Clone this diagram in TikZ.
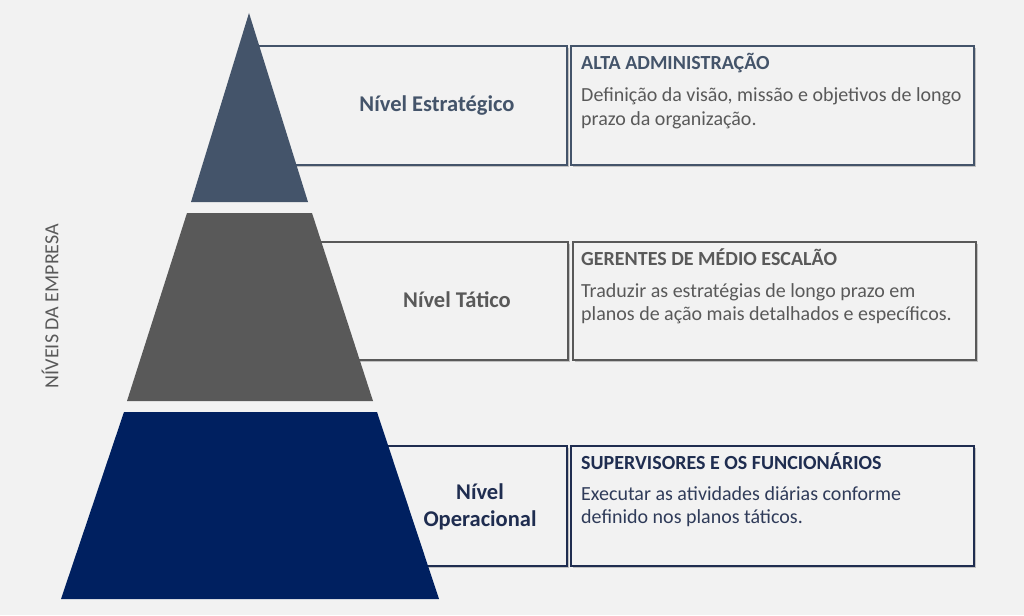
\documentclass[tikz,border=0pt]{standalone}
\usepackage{fontspec}
\setmainfont{Carlito}
\usetikzlibrary{shadows}
\definecolor{bgc}{HTML}{F2F2F2}
\definecolor{slate}{HTML}{44546A}
\definecolor{grayc}{HTML}{595959}
\definecolor{navy}{HTML}{002060}
\definecolor{navytxt}{HTML}{1F2D50}
\definecolor{navybody}{HTML}{2F3B59}
\tikzset{
  boxbase/.style={draw, line width=1.8pt, fill=bgc, inner sep=0pt, anchor=north west,
    drop shadow={shadow xshift=2pt, shadow yshift=-2pt, opacity=0.35, fill=black!60}},
  lvl/.style={font=\fontsize{22.5}{26}\selectfont\bfseries, align=center},
  ttl/.style={font=\fontsize{20}{23}\selectfont\bfseries, anchor=base west, inner sep=0pt},
  body/.style={font=\fontsize{20}{23}\selectfont, anchor=base west, inner sep=0pt},
}
\begin{document}
\begin{tikzpicture}[x=1pt,y=-1pt]
\fill[bgc] (0,0) rectangle (1024,615);
\useasboundingbox (0,0) rectangle (1024,615);

% label boxes and description boxes
\node[boxbase, draw=slate, minimum width=321pt, minimum height=119pt] (lb1) at (245,45) {};
\node[boxbase, draw=slate, minimum width=403pt, minimum height=119pt] (db1) at (570,45) {};
\node[boxbase, draw=grayc, minimum width=307pt, minimum height=118pt] (lb2) at (260,241) {};
\node[boxbase, draw=grayc, minimum width=403pt, minimum height=118pt] (db2) at (572,241) {};
\node[boxbase, draw=navytxt, minimum width=236pt, minimum height=120pt] (lb3) at (330,445) {};
\node[boxbase, draw=navytxt, minimum width=403pt, minimum height=120pt] (db3) at (570,445) {};

% pyramid
\fill[slate] (249,13) -- (308,202) -- (191,202) -- cycle;
\fill[grayc] (187,213) -- (312,213) -- (373,401) -- (127,401) -- cycle;
\fill[navy] (124,412) -- (377,412) -- (439,599) -- (61,599) -- cycle;

% level labels
\node[lvl, text=slate, anchor=base] (n1) at (437,112) {Nível Estratégico};
\node[lvl, text=grayc, anchor=base] (n2) at (457,307) {Nível Tático};
\node[lvl, text=navytxt, anchor=base] (n3a) at (480,499) {Nível};
\node[lvl, text=navytxt, anchor=base] (n3b) at (480,526) {Operacional};

% descriptions
\node[ttl, text=slate] (t1) at (581,70) {ALTA ADMINISTRAÇÃO};
\node[body, text=grayc] (b1a) at (581,102) {Definição da visão, missão e objetivos de longo};
\node[body, text=grayc] (b1b) at (581,125) {prazo da organização.};

\node[ttl, text=grayc] (t2) at (581,265) {GERENTES DE MÉDIO ESCALÃO};
\node[body, text=grayc] (b2a) at (581,297) {Traduzir as estratégias de longo prazo em};
\node[body, text=grayc] (b2b) at (581,320) {planos de ação mais detalhados e específicos.};

\node[ttl, text=navytxt] (t3) at (581,469) {SUPERVISORES E OS FUNCIONÁRIOS};
\node[body, text=navybody] (b3a) at (581,500) {Executar as atividades diárias conforme};
\node[body, text=navybody] (b3b) at (581,523) {definido nos planos táticos.};

% side label
\node[font=\fontsize{20}{23}\selectfont, text=grayc, rotate=90] (side) at (50,306) {NÍVEIS DA EMPRESA};
\end{tikzpicture}
\end{document}
